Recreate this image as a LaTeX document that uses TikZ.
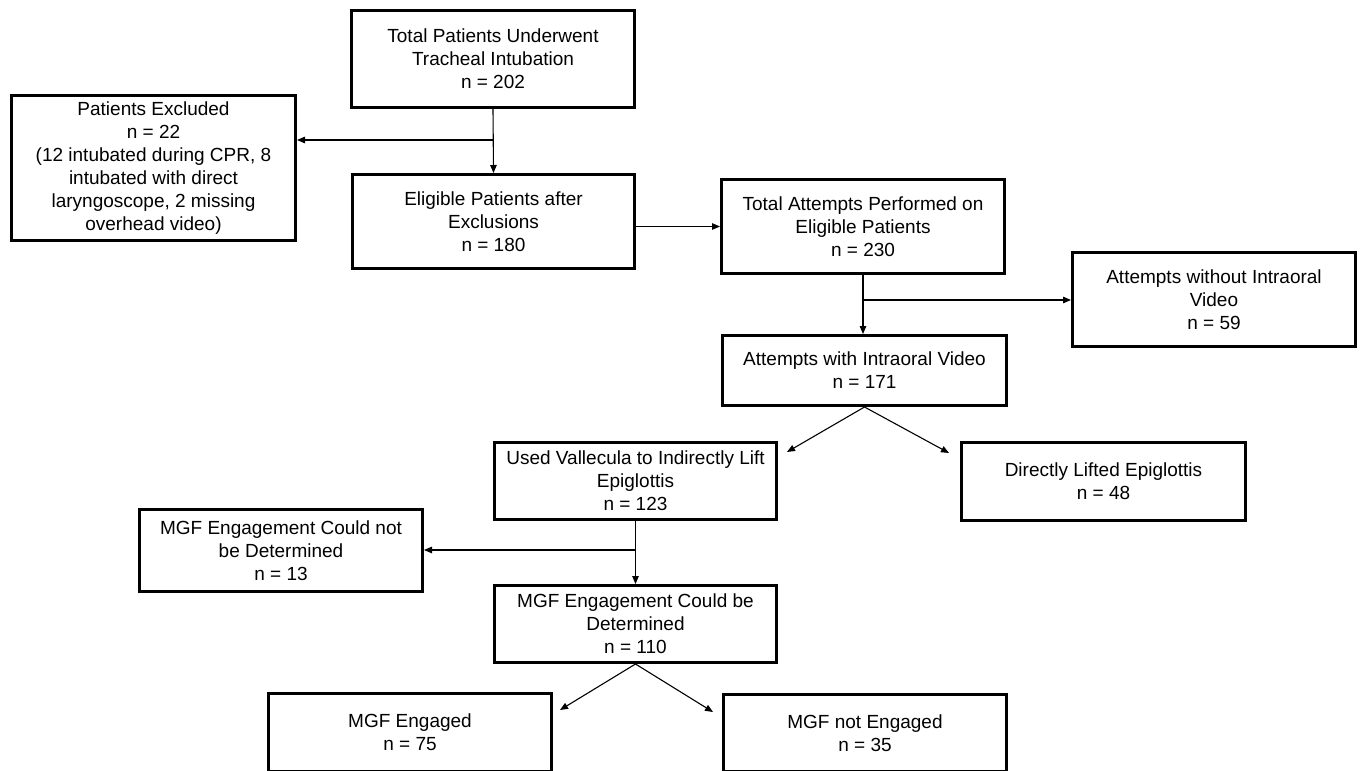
\documentclass[tikz,border=0pt]{standalone}
\usepackage{fontspec}
\setmainfont{Liberation Sans}
\usetikzlibrary{arrows.meta}
\begin{document}
\begin{tikzpicture}[x=1pt,y=-1pt,
  box/.style={draw, line width=2.6pt, align=center, inner sep=0pt,
    font=\fontsize{19}{23}\selectfont, minimum width=283.4pt},
  arr/.style={line width=1.1pt, -{Triangle[length=8pt,width=6.5pt]}}]
\useasboundingbox (0,0) rectangle (1361,771);
\fill[white] (0,0) rectangle (1361,771);
\node[box, minimum height=97.4pt] (top) at (493,59) {Total Patients Underwent\\Tracheal Intubation\\n = 202};
\node[box, minimum width=284.4pt, minimum height=145.4pt] (excl) at (153.5,168) {Patients Excluded\\n = 22\\(12 intubated during CPR, 8\\intubated with direct\\laryngoscope, 2 missing\\overhead video)};
\node[box, minimum width=282.4pt, minimum height=94.4pt] (elig) at (493.5,221.5) {Eligible Patients after\\Exclusions\\n = 180};
\node[box, minimum height=94.4pt] (total) at (863,226.5) {Total Attempts Performed on\\Eligible Patients\\n = 230};
\node[box, minimum height=94.4pt] (without) at (1214,299.5) {Attempts without Intraoral\\Video\\n = 59};
\node[box, minimum width=284.4pt, minimum height=70.4pt] (with) at (864.5,370.5) {Attempts with Intraoral Video\\n = 171};
\node[box, minimum width=282.4pt, minimum height=77.4pt] (vallec) at (635.5,481) {Used Vallecula to Indirectly Lift\\Epiglottis\\n = 123};
\node[box, minimum height=82.4pt] (mgfnot) at (281,550.5) {MGF Engagement Could not\\be Determined\\n = 13};
\node[box, minimum width=282.4pt, minimum height=77.4pt] (mgfcould) at (635.5,624) {MGF Engagement Could be\\Determined\\n = 110};
\node[box, minimum width=284.4pt, minimum height=78.4pt] (direct) at (1103.5,481.5) {Directly Lifted Epiglottis\\n = 48};
\node[box, minimum height=78.4pt] (engaged) at (410,732.5) {MGF Engaged\\n = 75};
\node[box, minimum height=77.4pt] (notengaged) at (865,733) {MGF not Engaged\\n = 35};

\draw[arr] (top.south) -- (elig.north);
\coordinate (b1) at (493,140);
\draw[arr] (b1) -- (b1 -| excl.east);
\draw[arr] (total.west -| elig.east) -- (total.west);
\draw[arr] (total.south) -- (total.south |- with.north);
\coordinate (b2) at (863,300);
\draw[arr] (b2) -- (b2 -| without.west);
\coordinate (t1) at (787,452);
\coordinate (t2) at (949,453);
\draw[arr] (with.south) -- (t1);
\draw[arr] (with.south) -- (t2);
\draw[arr] (vallec.south) -- (mgfcould.north);
\coordinate (b3) at (636,550);
\draw[arr] (b3) -- (b3 -| mgfnot.east);
\coordinate (t3) at (560,710);
\coordinate (t4) at (713,712);
\draw[arr] (mgfcould.south) -- (t3);
\draw[arr] (mgfcould.south) -- (t4);
\end{tikzpicture}
\end{document}
